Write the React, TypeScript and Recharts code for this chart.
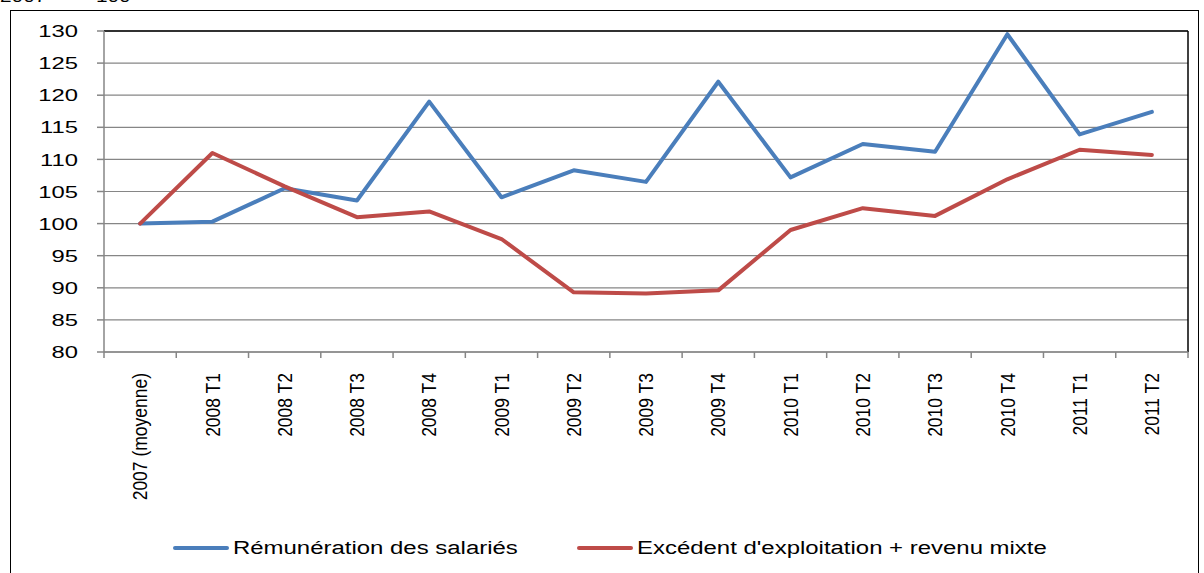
import { LineChart, Line, XAxis, YAxis, CartesianGrid, ReferenceLine, Legend } from 'recharts';

const CATEGORIES = [
  '2007 (moyenne)',
  '2008 T1',
  '2008 T2',
  '2008 T3',
  '2008 T4',
  '2009 T1',
  '2009 T2',
  '2009 T3',
  '2009 T4',
  '2010 T1',
  '2010 T2',
  '2010 T3',
  '2010 T4',
  '2011 T1',
  '2011 T2',
];

const REMUNERATION = [100, 100.3, 105.5, 103.6, 119, 104.1, 108.3, 106.5, 122.1, 107.2, 112.4, 111.2, 129.5, 113.9, 117.4];
const EXCEDENT = [100, 111, 105.8, 101, 101.9, 97.6, 89.3, 89.1, 89.6, 99, 102.4, 101.2, 106.9, 111.5, 110.7];

const Y_TICKS = [80, 85, 90, 95, 100, 105, 110, 115, 120, 125, 130];

const BLUE = '#4a7ebb';
const RED = '#be4b48';
const GRAY = '#868686';
const FONT = '"Liberation Sans", Arial, sans-serif';

const data = CATEGORIES.map((label, i) => ({
  i,
  label,
  rem: REMUNERATION[i],
  exc: EXCEDENT[i],
}));

// Excel puts the category ticks between the categories
const boundaryTicks = [...CATEGORIES.map((_, i) => i - 0.5), CATEGORIES.length - 0.5];
const labelTicks = CATEGORIES.map((_, i) => i);
const xDomain = [-0.5, CATEGORIES.length - 0.5];

function YTick(props: any) {
  const { x, y, payload } = props;
  return (
    <text
      transform={`translate(${x},${y}) scale(1.4,1)`}
      textAnchor="end"
      dy="0.36em"
      fontSize={17}
      fontFamily={FONT}
      fill="#000"
    >
      {payload.value}
    </text>
  );
}

function XLabel(props: any) {
  const { x, y, payload } = props;
  const label = CATEGORIES[payload.value];
  if (label === undefined) return null;
  return (
    <g transform={`translate(${x},${y + 12}) rotate(-90) scale(1,1.2)`}>
      <text x={0} y={6} textAnchor="end" fontSize={17.5} fontFamily={FONT} fill="#000">
        {label}
      </text>
    </g>
  );
}

const LEGEND_LEFT: Record<string, number> = { rem: 173, exc: 577 };

function LegendContent(props: any) {
  const { payload } = props;
  return (
    <div style={{ position: 'relative', height: 24, fontFamily: FONT }}>
      {(payload || []).map((p: any) => (
        <div
          key={p.dataKey}
          style={{
            position: 'absolute',
            left: LEGEND_LEFT[p.dataKey] ?? 0,
            top: 0,
            height: 24,
            display: 'flex',
            alignItems: 'center',
          }}
        >
          <span style={{ display: 'inline-block', width: 56, height: 4, background: p.color, borderRadius: 2 }} />
          <span
            style={{
              marginLeft: 4,
              fontSize: 18,
              whiteSpace: 'nowrap',
              transform: 'scaleX(1.33)',
              transformOrigin: 'left center',
              color: '#000',
            }}
          >
            {p.value}
          </span>
        </div>
      ))}
    </div>
  );
}

export default function App() {
  return (
    <div style={{ position: 'absolute', left: 0, top: 0, width: 1204, height: 573, overflow: 'hidden', background: '#fff' }}>
      <div
        style={{
          position: 'absolute',
          left: 0,
          top: -12,
          fontFamily: FONT,
          fontSize: 16,
          lineHeight: '18px',
          whiteSpace: 'pre',
          wordSpacing: 10,
          transform: 'scaleX(1.3)',
          transformOrigin: 'left top',
        }}
      >
        2007 = 100
      </div>
      <div
        style={{
          position: 'absolute',
          left: 10,
          top: 10,
          width: 1187,
          height: 620,
          border: '1.5px solid #000',
        }}
      />
      <div style={{ position: 'absolute', left: 0, top: 0 }}>
        <LineChart width={1204} height={573} data={data} margin={{ top: 31, right: 16, left: 0, bottom: 0 }}>
          <CartesianGrid horizontal vertical={false} stroke={GRAY} strokeWidth={1.2} />
          <XAxis
            xAxisId={0}
            type="number"
            dataKey="i"
            domain={xDomain}
            ticks={boundaryTicks}
            interval={0}
            allowDecimals
            tickFormatter={() => ''}
            tickSize={6}
            stroke={GRAY}
            axisLine={{ stroke: GRAY, strokeWidth: 1.5 }}
            tickLine={{ stroke: GRAY, strokeWidth: 1.5 }}
            height={1}
          />
          <XAxis
            xAxisId="lab"
            type="number"
            dataKey="i"
            domain={xDomain}
            ticks={labelTicks}
            interval={0}
            axisLine={false}
            tickLine={false}
            tick={<XLabel />}
            height={220}
          />
          <YAxis
            type="number"
            domain={[80, 130]}
            ticks={Y_TICKS}
            interval={0}
            width={104}
            tickSize={7}
            tickMargin={19}
            axisLine={{ stroke: GRAY, strokeWidth: 1.5 }}
            tickLine={{ stroke: GRAY, strokeWidth: 1.5 }}
            tick={<YTick />}
          />
          <ReferenceLine y={130} stroke="#000" strokeWidth={1.5} />
          <ReferenceLine x={CATEGORIES.length - 0.5} stroke="#000" strokeWidth={1.5} />
          <Line
            name="Rémunération des salariés"
            dataKey="rem"
            stroke={BLUE}
            strokeWidth={4}
            dot={false}
            activeDot={false}
            strokeLinejoin="round"
            strokeLinecap="round"
            isAnimationActive={false}
          />
          <Line
            name="Excédent d'exploitation + revenu mixte"
            dataKey="exc"
            stroke={RED}
            strokeWidth={4}
            dot={false}
            activeDot={false}
            strokeLinejoin="round"
            strokeLinecap="round"
            isAnimationActive={false}
          />
          <Legend
            verticalAlign="middle"
            align="center"
            layout="horizontal"
            content={<LegendContent />}
            wrapperStyle={{ position: 'absolute', top: 536, left: 0, width: 1204, height: 24 }}
          />
        </LineChart>
      </div>
    </div>
  );
}
